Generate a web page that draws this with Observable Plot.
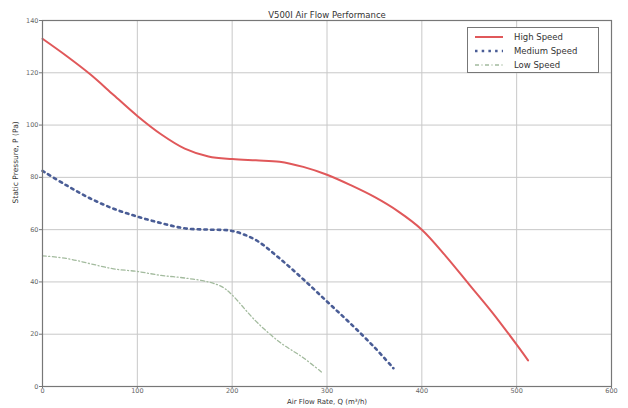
<!DOCTYPE html>
<html>
<head>
<meta charset="utf-8">
<script src="https://cdn.jsdelivr.net/npm/d3@7"></script>
<script src="https://cdn.jsdelivr.net/npm/@observablehq/plot@0.6"></script>
<style>
  body { margin: 0; background: #fff; font-family: "DejaVu Sans", sans-serif; }
  #wrap { position: relative; width: 628px; height: 408px; }
  #legend { position: absolute; left: 467px; top: 27px; width: 132px; height: 46px;
    border: 1px solid #777; background: #fff; font-size: 8.5px; color: #333; box-sizing: border-box; padding: 2px 0 0 6px; }
  #legend .row { display: flex; align-items: center; height: 14px; }
  #legend svg { margin-right: 10px; }
</style>
</head>
<body>
<div id="wrap"></div>
<script>
const title = "V500I Air Flow Performance";
const xLabel = "Air Flow Rate, Q (m³/h)";
const yLabel = "Static Pressure, P (Pa)";
const xTicks = [0, 100, 200, 300, 400, 500, 600];
const yTicks = [0, 20, 40, 60, 80, 100, 120, 140];

const highQ = [0, 25, 50, 75, 100, 125, 150, 175, 200, 225, 250, 275, 300, 325, 350, 375, 400, 425, 450, 475, 500, 512];
const highP = [133, 126.5, 119.5, 111.5, 103.5, 96.5, 91, 88, 87, 86.5, 86, 84, 81, 77, 72.5, 67, 60, 50, 39, 28, 16, 10];

const medQ = [0, 25, 50, 75, 100, 125, 150, 175, 200, 225, 250, 275, 300, 325, 350, 370];
const medP = [82.5, 77, 72, 68, 65, 62.5, 60.5, 60, 59.5, 56, 49, 41, 32.5, 24, 15, 7];

const lowQ = [0, 25, 50, 75, 100, 125, 150, 175, 190, 200, 225, 250, 275, 296];
const lowP = [50, 49, 47, 45, 44, 42.5, 41.5, 40, 38, 35, 25, 17, 11, 5];

const series = [
  {name: "High Speed", q: highQ, p: highP, color: "#e0585a", width: 2, dash: null},
  {name: "Medium Speed", q: medQ, p: medP, color: "#4a5d96", width: 2.6, dash: "2.5,4.2"},
  {name: "Low Speed", q: lowQ, p: lowP, color: "#a3bb9e", width: 1.3, dash: "4,2.5,1,2.5"}
];

const lineMarks = series.map(s => {
  const data = s.q.map((q, i) => ({q, p: s.p[i]}));
  return Plot.line(data, {x: "q", y: "p", stroke: s.color, strokeWidth: s.width,
    strokeDasharray: s.dash || undefined, curve: "catmull-rom"});
});

const chart = Plot.plot({
  width: 628,
  height: 408,
  marginLeft: 42,
  marginRight: 17,
  marginTop: 20,
  marginBottom: 22,
  style: {fontFamily: "DejaVu Sans, sans-serif", fontSize: "6.5px", color: "#555", background: "#fff"},
  x: {domain: [0, 600], ticks: xTicks, label: null},
  y: {domain: [0, 140], ticks: yTicks, label: null},
  marks: [
    Plot.gridX(xTicks, {stroke: "#c8c8c8", strokeOpacity: 1, strokeWidth: 1}),
    Plot.gridY(yTicks, {stroke: "#c8c8c8", strokeOpacity: 1, strokeWidth: 1}),
    Plot.axisX(xTicks, {tickSize: 2, tickPadding: 0, stroke: "#777", fill: "#666"}),
    Plot.axisY(yTicks, {tickSize: 3, tickPadding: 1, stroke: "#777", fill: "#666"}),
    ...lineMarks,
    Plot.frame({stroke: "#777", strokeWidth: 1.2}),
    Plot.text([title], {frameAnchor: "top", dy: -9, fontSize: 8.5, fill: "#333"}),
    Plot.text([xLabel], {frameAnchor: "bottom", dy: 17, fontSize: 7, fill: "#333"}),
    Plot.text([yLabel], {frameAnchor: "left", dx: -27, rotate: -90, fontSize: 7.5, fill: "#333"})
  ]
});

const wrap = document.getElementById("wrap");
wrap.appendChild(chart);

const legend = document.createElement("div");
legend.id = "legend";
for (const s of series) {
  const row = document.createElement("div");
  row.className = "row";
  row.innerHTML = `<svg width="30" height="6"><line x1="1" x2="29" y1="3" y2="3" stroke="${s.color}" stroke-width="${s.width}" ${s.dash ? `stroke-dasharray="${s.dash}"` : ""}/></svg><span>${s.name}</span>`;
  legend.appendChild(row);
}
wrap.appendChild(legend);
</script>
</body>
</html>
